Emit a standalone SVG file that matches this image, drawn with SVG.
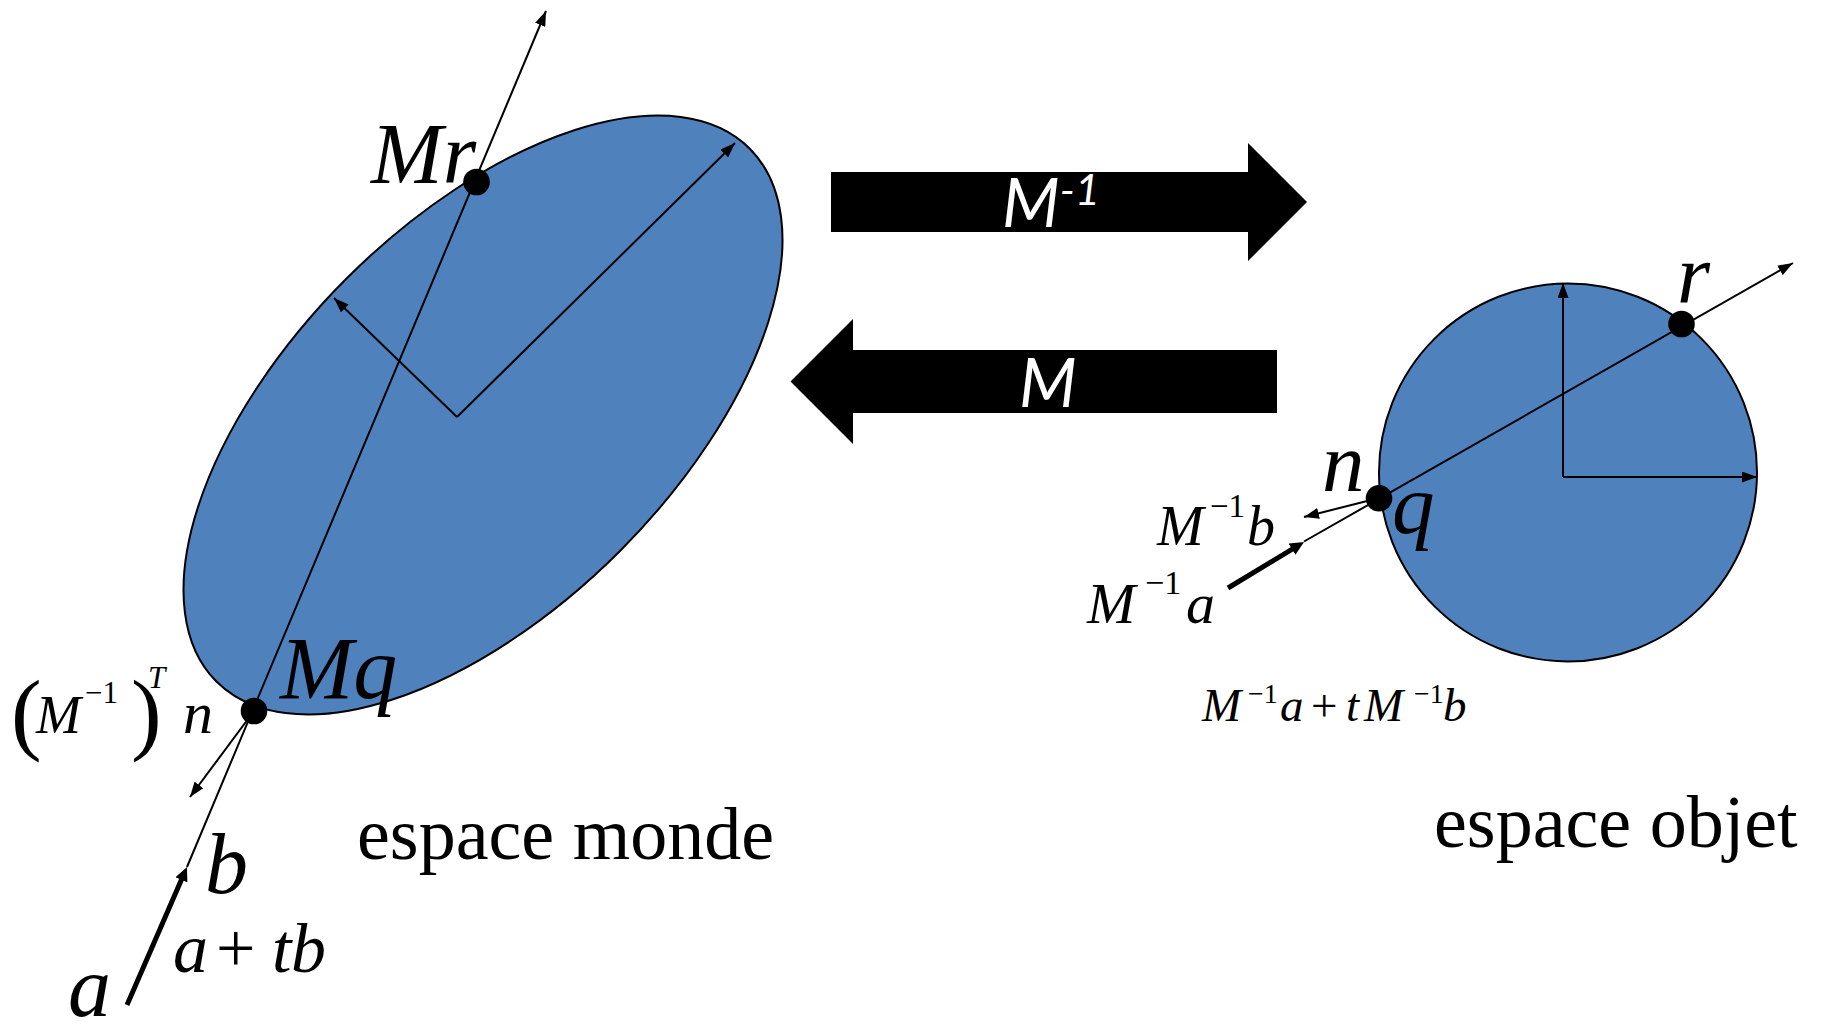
<svg xmlns="http://www.w3.org/2000/svg" width="1823" height="1036" viewBox="0 0 1823 1036">
<style>
.shape{fill:#4F81BD;stroke:#000;stroke-width:2}
.dot{fill:#000}
.ln{stroke:#000;stroke-width:2;fill:none}
.thick{stroke:#000;stroke-width:5;fill:none}
.mi{font-family:"Liberation Serif","Times New Roman",serif;font-style:italic;fill:#000}
.rm{font-family:"Liberation Serif","Times New Roman",serif;font-style:normal;fill:#000}
.lab{font-family:"Liberation Serif","Times New Roman",serif;font-size:74px;fill:#000}
.big{fill:#000}
.wt{font-family:Lato,"Open Sans","Liberation Sans",sans-serif;font-style:italic;font-size:67px;fill:#fff}
</style>
<defs>
<marker id="arr" viewBox="0 0 15 11" refX="15" refY="5.5" markerWidth="15" markerHeight="11" markerUnits="userSpaceOnUse" orient="auto"><path d="M0,0L15,5.5L0,11z" fill="#000"/></marker>
<marker id="arrT" viewBox="0 0 14 13" refX="6" refY="6.5" markerWidth="14" markerHeight="13" markerUnits="userSpaceOnUse" orient="auto"><path d="M0,0L14,6.5L0,13z" fill="#000"/></marker>
</defs>

<g id="world-ellipse">
<ellipse class="shape" cx="483" cy="415" rx="377" ry="193" transform="rotate(-45 483 415)"/>
</g>
<g id="object-circle">
<circle class="shape" cx="1568" cy="472.5" r="189"/>
</g>

<g id="connectors">
<line class="ln" x1="457" y1="417" x2="735" y2="143" marker-end="url(#arr)"/>
<line class="ln" x1="457" y1="417" x2="334" y2="298" marker-end="url(#arr)"/>
<line class="ln" x1="187" y1="867" x2="546" y2="11" marker-end="url(#arr)"/>
<line class="thick" x1="127" y1="1005" x2="183.8" y2="874.3" marker-end="url(#arrT)"/>
<line class="ln" x1="254" y1="711" x2="190" y2="797" marker-end="url(#arr)"/>
<line class="ln" x1="1563" y1="477" x2="1563" y2="283" marker-end="url(#arr)"/>
<line class="ln" x1="1563" y1="477" x2="1757" y2="477" marker-end="url(#arr)"/>
<line class="ln" x1="1304" y1="541.5" x2="1793" y2="263" marker-end="url(#arr)"/>
<line class="thick" x1="1228" y1="588" x2="1297.2" y2="546.1" marker-end="url(#arrT)"/>
<line class="ln" x1="1379" y1="498" x2="1304" y2="517" marker-end="url(#arr)"/>
</g>

<g id="dot-Mr"><circle class="dot" cx="476.5" cy="182" r="13.3"/></g>
<g id="dot-Mq"><circle class="dot" cx="254" cy="711" r="13.3"/></g>
<g id="dot-r"><circle class="dot" cx="1681.5" cy="324" r="13.3"/></g>
<g id="dot-q"><circle class="dot" cx="1379" cy="498.3" r="13.3"/></g>

<g id="arrow-Minv">
<polygon class="big" points="831,172 1248,172 1248,143 1307,202 1248,261 1248,232 831,232"/>
<text class="wt" x="1002" y="227">M<tspan font-size="43" dy="-22">-1</tspan></text>
</g>
<g id="arrow-M">
<polygon class="big" points="1277,350 853,350 853,319 790.5,381.5 853,444 853,413 1277,413"/>
<text class="wt" x="1019" y="407">M</text>
</g>

<g id="label-Mr"><text class="mi" x="371" y="183" font-size="86">Mr</text></g>
<g id="label-Mq"><text class="mi" x="280" y="698" font-size="88">Mq</text></g>
<g id="label-normal-world">
<text class="mi" font-size="56" y="733"><tspan class="rm" x="11" y="743" font-size="92" letter-spacing="-10">(</tspan><tspan x="36" y="733" font-size="54">M</tspan><tspan class="rm" x="85" y="703" font-size="31">−1</tspan><tspan class="rm" x="131" y="743" font-size="92" letter-spacing="-16">)</tspan><tspan x="148" y="688" font-size="31">T</tspan><tspan x="183" y="733" font-size="60">n</tspan></text>
</g>
<g id="label-b"><text class="mi" x="205" y="893" font-size="86">b</text></g>
<g id="label-a-tb"><text class="mi" font-size="70" y="972"><tspan x="173">a</tspan><tspan class="rm" x="216">+</tspan><tspan x="272">t</tspan><tspan x="291">b</tspan></text></g>
<g id="label-a"><text class="mi" x="68" y="1016" font-size="86">a</text></g>
<g id="label-world"><text class="lab" x="357" y="859">espace monde</text></g>

<g id="label-r"><text class="mi" x="1677" y="303" font-size="85">r</text></g>
<g id="label-n"><text class="mi" x="1322" y="491" font-size="85">n</text></g>
<g id="label-q"><text class="mi" x="1392" y="533" font-size="85">q</text></g>
<g id="label-Minvb"><text class="mi" font-size="56" y="545"><tspan x="1157">M</tspan><tspan class="rm" x="1210" y="517" font-size="33">−1</tspan><tspan x="1247" y="545">b</tspan></text></g>
<g id="label-Minva"><text class="mi" font-size="58" y="623"><tspan x="1087">M</tspan><tspan class="rm" x="1145" y="594" font-size="34">−1</tspan><tspan x="1186" y="623">a</tspan></text></g>
<g id="label-ray-object"><text class="mi" font-size="47" y="721"><tspan x="1202">M</tspan><tspan class="rm" x="1248" y="703" font-size="28">−1</tspan><tspan x="1280" y="721">a</tspan><tspan class="rm" x="1311">+</tspan><tspan x="1346">t</tspan><tspan x="1364">M</tspan><tspan class="rm" x="1414" y="703" font-size="28">−1</tspan><tspan x="1443" y="721">b</tspan></text></g>
<g id="label-object"><text class="lab" x="1434" y="847">espace objet</text></g>
</svg>
